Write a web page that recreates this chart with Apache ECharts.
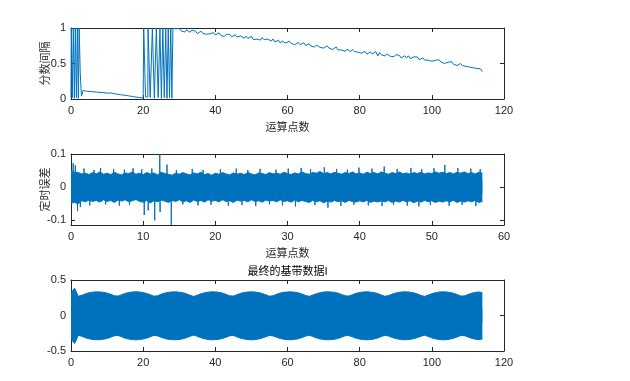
<!DOCTYPE html>
<html><head><meta charset="utf-8">
<script src="https://cdn.jsdelivr.net/npm/echarts@6/dist/echarts.min.js"></script>
<style>html,body{margin:0;padding:0;background:#fff}#c{width:630px;height:381px}</style>
</head><body><div id="c"></div>
<script>
// ---------- Plot 1: 分数间隔 ----------
const fracHead = [
 [0,0.02],[0.08,1],[0.3,1],[0.36,0.02],[0.58,0.02],[0.64,1],[0.88,1],[0.94,0.01],[1.14,0.01],[1.2,1],
 [1.44,1],[1.5,0.02],[1.7,0.02],[1.76,1],[1.98,1],[2.04,0.01],[2.2,0.01],[2.26,1],[2.46,1],[2.56,0.37],
 [2.72,0.2],[2.9,0.04],[3.1,0.02],[3.35,0.12],[3.5,0.145],[4,0.112],[4.5,0.138],[5,0.108],[5.5,0.13],[6,0.102],
 [6.5,0.124],[7,0.098],[7.5,0.12],[8,0.094],[8.5,0.114],[9,0.09],[9.5,0.11],[10,0.082],[10.5,0.104],[11,0.086],
 [11.5,0.1],[12,0.074],[12.5,0.094],[13,0.066],[13.5,0.084],[14,0.058],[14.5,0.074],[15,0.052],[15.5,0.068],[16,0.044],
 [16.5,0.058],[17,0.036],[17.5,0.05],[18,0.027],[18.5,0.04],[19,0.02],[19.5,0.032],[20,0.016]
];
const fracWrap = [
 [20.1,0.02],[20.15,1],[20.6,1],[20.65,0.03],[21.3,0.03],[21.35,1],[21.9,1],[21.95,0.02],[22.5,0.02],[22.55,1],
 [23.05,1],[23.1,0.01],[23.6,0.01],[23.65,1],[24.1,1],[24.15,0.02],[24.6,0.02],[24.65,1],[25.0,1],[25.05,0.01],
 [25.4,0.01],[25.45,1],[25.8,1],[25.85,0.02],[26.2,0.02],[26.25,1],[26.55,1],[26.6,0.01],[26.9,0.01],[26.95,1],
 [27.25,1],[27.3,0.02],[27.6,0.02],[27.65,1],[27.9,1],[27.95,0.01],[28.2,0.01],[28.25,1],[28.5,0.99]
];
const fracTailStart = 29, fracTailStep = 0.5;   // x = 29, 29.5, ... 114
const fracTail = [
 .989,.961,.992,.960,.968,.943,.975,.958,.940,.971,.943,.956,.920,.946,.955,.925,.936,.912,.938,.918,
 .913,.935,.902,.921,.932,.895,.908,.881,.912,.890,.909,.876,.894,.904,.873,.857,.887,.878,.855,.886,
 .852,.871,.881,.838,.858,.843,.863,.830,.866,.834,.815,.845,.831,.815,.845,.804,.824,.828,.788,.817,
 .817,.787,.807,.816,.784,.804,.765,.788,.796,.764,.778,.792,.753,.759,.779,.746,.763,.731,.761,.746,
 .730,.754,.716,.738,.749,.719,.733,.697,.722,.733,.692,.707,.690,.714,.670,.700,.687,.669,.698,.668,
 .686,.660,.686,.647,.665,.670,.632,.658,.664,.634,.646,.668,.604,.655,.623,.638,.606,.635,.623,.602,
 .623,.595,.624,.599,.614,.578,.602,.609,.579,.609,.568,.586,.593,.567,.593,.553,.573,.578,.548,.569,
 .548,.569,.531,.556,.545,.523,.553,.522,.539,.500,.527,.519,.497,.524,.490,.511,.472,.495,.499,.470,
 .486,.460,.479,.449,.467,.439,.457,.431,.448,.424,.386
];

// ---------- Plot 2: 定时误差 (x = 0 .. 57, step 0.5) ----------
const errStep = 0.5;
const errUpper = [
 0.05,0.045,0.044,0.04,0.042,0.038,0.044,0.04,0.046,0.039,
 0.042,0.038,0.045,0.04,0.037,0.043,0.041,0.046,0.039,0.042,
 0.038,0.044,0.04,0.043,0.037,0.045,0.041,0.039,0.036,0.042,
 0.039,0.044,0.04,0.037,0.043,0.04,0.045,0.038,0.041,0.036,
 0.042,0.039,0.044,0.04,0.037,0.043,0.039,0.042,0.038,0.044,
 0.04,0.037,0.043,0.041,0.038,0.044,0.04,0.042,0.039,0.045,
 0.041,0.038,0.043,0.04,0.046,0.041,0.039,0.044,0.042,0.047,
 0.041,0.044,0.04,0.045,0.042,0.039,0.044,0.041,0.046,0.04,
 0.043,0.039,0.045,0.041,0.044,0.04,0.046,0.042,0.039,0.044,
 0.041,0.046,0.04,0.043,0.039,0.044,0.041,0.045,0.04,0.043,
 0.041,0.046,0.042,0.045,0.041,0.044,0.04,0.045,0.042,0.046,
 0.041,0.044,0.04,0.045,0.042
];
const errLower = [
 -0.048,-0.046,-0.05,-0.041,-0.044,-0.039,-0.043,-0.04,-0.045,-0.038,
 -0.043,-0.04,-0.046,-0.039,-0.042,-0.038,-0.044,-0.041,-0.037,-0.043,
 -0.045,-0.04,-0.047,-0.041,-0.044,-0.039,-0.042,-0.046,-0.04,-0.043,
 -0.038,-0.044,-0.041,-0.046,-0.039,-0.043,-0.04,-0.045,-0.038,-0.042,
 -0.04,-0.044,-0.038,-0.043,-0.041,-0.046,-0.039,-0.042,-0.04,-0.044,
 -0.038,-0.043,-0.041,-0.045,-0.039,-0.042,-0.04,-0.044,-0.038,-0.043,
 -0.041,-0.045,-0.039,-0.044,-0.04,-0.043,-0.046,-0.04,-0.044,-0.041,
 -0.047,-0.042,-0.045,-0.04,-0.044,-0.041,-0.046,-0.04,-0.043,-0.045,
 -0.041,-0.044,-0.04,-0.046,-0.042,-0.045,-0.041,-0.044,-0.04,-0.046,
 -0.042,-0.045,-0.04,-0.044,-0.041,-0.047,-0.042,-0.045,-0.04,-0.044,
 -0.041,-0.046,-0.042,-0.045,-0.041,-0.044,-0.04,-0.046,-0.042,-0.045,
 -0.041,-0.044,-0.04,-0.046,-0.043
];
const errSpikes = [
 [0.3,0.072],[0.6,0.066],[0.9,-0.072],[1.3,-0.06],[1.8,0.056],[2.6,-0.055],[3.2,0.052],[4.1,0.058],[4.8,-0.052],[5.9,0.055],
 [6.7,-0.056],[7.4,0.053],[8.1,-0.053],[8.6,0.057],[9.8,0.054],[10.15,-0.084],[10.7,-0.07],[11.2,0.056],[11.6,-0.1],[12.3,0.1],
 [12.35,-0.075],[13.3,0.068],[13.9,-0.114],[14.6,0.052],[15.5,-0.052],[16.8,0.055],[17.6,-0.055],[18.3,0.052],[19.4,-0.053],[20.7,0.054],
 [21.8,-0.056],[22.9,0.056],[23.7,-0.054],[24.5,0.052],[25.6,-0.057],[26.2,0.055],[27.5,-0.052],[28.4,0.053],[29.3,-0.055],[30.1,0.056],
 [31.1,-0.058],[31.9,0.058],[33.2,0.054],[33.8,-0.054],[35.1,0.06],[35.6,-0.062],[36.8,0.055],[37.4,-0.056],[38.3,0.053],[39.2,-0.053],
 [39.9,0.059],[41.2,-0.055],[41.7,0.056],[43.1,-0.057],[43.4,0.062],[44.7,-0.053],[45.2,0.055],[46.6,-0.056],[47.1,0.058],[48.2,-0.058],
 [48.6,0.054],[49.8,-0.054],[50.3,0.057],[51.8,0.067],[52.4,-0.056],[53.6,0.058],[54.2,-0.053],[55.4,0.056],[56.1,-0.057],[56.7,0.054]
];

// ---------- Plot 3: 最终的基带数据I (x = 0 .. 114, step 1) ----------
const baseUpper = [
 0.32,0.385,0.27,0.285,0.305,0.32,0.329,0.333,0.332,0.326,
 0.315,0.298,0.278,0.273,0.292,0.311,0.324,0.331,0.334,0.331,
 0.323,0.31,0.291,0.272,0.279,0.299,0.316,0.326,0.332,0.333,
 0.329,0.32,0.305,0.285,0.268,0.285,0.305,0.32,0.329,0.333,
 0.332,0.326,0.315,0.297,0.277,0.274,0.293,0.312,0.324,0.331,
 0.334,0.331,0.323,0.31,0.291,0.272,0.279,0.299,0.316,0.326,
 0.332,0.333,0.328,0.319,0.303,0.283,0.269,0.287,0.307,0.321,
 0.33,0.333,0.332,0.326,0.315,0.297,0.277,0.274,0.293,0.312,
 0.324,0.331,0.334,0.33,0.322,0.309,0.289,0.271,0.281,0.301,
 0.317,0.327,0.333,0.333,0.328,0.319,0.303,0.283,0.269,0.287,
 0.307,0.321,0.33,0.334,0.332,0.325,0.313,0.295,0.275,0.275,
 0.295,0.313,0.325,0.332,0.32
];
const baseLower = [
 -0.33,-0.395,-0.28,-0.292,-0.314,-0.327,-0.338,-0.341,-0.34,-0.333,
 -0.324,-0.305,-0.286,-0.28,-0.3,-0.32,-0.332,-0.339,-0.343,-0.338,
 -0.331,-0.318,-0.299,-0.279,-0.287,-0.308,-0.324,-0.335,-0.34,-0.342,
 -0.337,-0.328,-0.313,-0.293,-0.276,-0.293,-0.313,-0.328,-0.337,-0.342,
 -0.34,-0.334,-0.323,-0.305,-0.285,-0.282,-0.301,-0.32,-0.332,-0.339,
 -0.343,-0.339,-0.331,-0.318,-0.299,-0.28,-0.287,-0.307,-0.324,-0.334,
 -0.34,-0.342,-0.336,-0.327,-0.311,-0.291,-0.277,-0.295,-0.315,-0.329,
 -0.338,-0.342,-0.34,-0.334,-0.323,-0.305,-0.285,-0.282,-0.301,-0.32,
 -0.332,-0.339,-0.343,-0.338,-0.33,-0.317,-0.297,-0.279,-0.289,-0.309,
 -0.325,-0.335,-0.341,-0.341,-0.336,-0.327,-0.311,-0.291,-0.277,-0.295,
 -0.315,-0.329,-0.338,-0.343,-0.34,-0.333,-0.321,-0.303,-0.283,-0.283,
 -0.303,-0.321,-0.333,-0.34,-0.33
];

// ---------- labels ----------
const xName = '运算点数';
const yName1 = '分数间隔';
const yName2 = '定时误差';
const title3 = '最终的基带数据I';

// ---------- build ----------
const BLUE = '#0072BD', INK = '#262626';
const NUM_FONT = '"Liberation Sans", Arial, sans-serif';
const CJK_FONT = '"Noto Sans CJK SC", sans-serif';

const fracData = fracHead.concat(fracWrap, fracTail.map((v, i) => [fracTailStart + i * fracTailStep, v]));
const errUp = errUpper.map((v, i) => [i * errStep, v]);
const errLo = errLower.map((v, i) => [i * errStep, v]);
const spikeLine = [];
errSpikes.forEach(([x, y]) => { spikeLine.push([x, 0], [x, y], [x, 0]); });
const baseUp = baseUpper.map((v, i) => [i, v]);
const baseLo = baseLower.map((v, i) => [i, v]);

const grids = [
  {left: 71, top: 28, width: 433, height: 71},
  {left: 71, top: 154, width: 433, height: 71},
  {left: 71, top: 280, width: 433, height: 71}
];

function axisBase() {
  return {
    axisLine: {show: true, onZero: false, lineStyle: {color: INK, width: 1}},
    axisTick: {show: true, inside: true, length: 4, lineStyle: {color: INK, width: 1}},
    splitLine: {show: false},
    axisLabel: {color: INK, fontSize: 11, fontFamily: NUM_FONT}
  };
}
function xAxes(g, min, max, interval, name, topName) {
  const b = Object.assign(axisBase(), {type: 'value', gridIndex: g, min, max, interval, position: 'bottom'});
  b.axisLabel.margin = 6;
  if (name) Object.assign(b, {name, nameLocation: 'middle', nameGap: 22, nameMoveOverlap: false,
    nameTextStyle: {color: INK, fontSize: 11, fontFamily: CJK_FONT}});
  const t = Object.assign(axisBase(), {type: 'value', gridIndex: g, min, max, interval, position: 'top'});
  t.axisLabel.show = false;
  if (topName) Object.assign(t, {name: topName, nameLocation: 'middle', nameGap: 4, nameMoveOverlap: false,
    nameTextStyle: {color: '#000', fontSize: 11, fontFamily: CJK_FONT}});
  return [b, t];
}
function yAxes(g, min, max, interval, name, custom) {
  const b = Object.assign(axisBase(), {type: 'value', gridIndex: g, min, max, position: 'left'});
  if (interval) b.interval = interval;
  b.axisLabel.margin = 5;
  if (custom) { b.axisLabel.customValues = custom; b.axisTick.customValues = custom; }
  if (name) Object.assign(b, {name, nameLocation: 'middle', nameGap: 21, nameMoveOverlap: false,
    nameTextStyle: {color: INK, fontSize: 11, fontFamily: CJK_FONT}});
  const r = Object.assign(axisBase(), {type: 'value', gridIndex: g, min, max, position: 'right'});
  if (interval) r.interval = interval;
  if (custom) { r.axisTick.customValues = custom; r.axisLabel.customValues = custom; }
  r.axisLabel.show = false;
  return [b, r];
}

function band(xi, data, origin) {
  return {type: 'line', xAxisIndex: xi, yAxisIndex: xi, data, symbol: 'none',
    lineStyle: {color: BLUE, width: 1}, areaStyle: {color: BLUE, opacity: 1, origin}};
}

const option = {
  animation: false,
  backgroundColor: '#fff',
  grid: grids,
  xAxis: [].concat(
    xAxes(0, 0, 120, 20, xName),
    xAxes(1, 0, 60, 10, xName),
    xAxes(2, 0, 120, 20, null, title3)
  ),
  yAxis: [].concat(
    yAxes(0, 0, 1, 0.5, yName1),
    yAxes(1, -0.114, 0.1, null, yName2, [-0.1, 0, 0.1]),
    yAxes(2, -0.5, 0.5, 0.5, null)
  ),
  series: [
    {type: 'line', xAxisIndex: 0, yAxisIndex: 0, data: fracData, symbol: 'none',
      lineStyle: {color: BLUE, width: 1}},
    band(2, errUp, -0.02),
    band(2, errLo, 0.02),
    {type: 'line', xAxisIndex: 2, yAxisIndex: 2, data: spikeLine, symbol: 'none',
      lineStyle: {color: BLUE, width: 1}},
    band(4, baseUp, -0.1),
    band(4, baseLo, 0.1)
  ]
};
const chart = echarts.init(document.getElementById('c'), null, {renderer: 'canvas'});
chart.setOption(option);
</script>
</body></html>
